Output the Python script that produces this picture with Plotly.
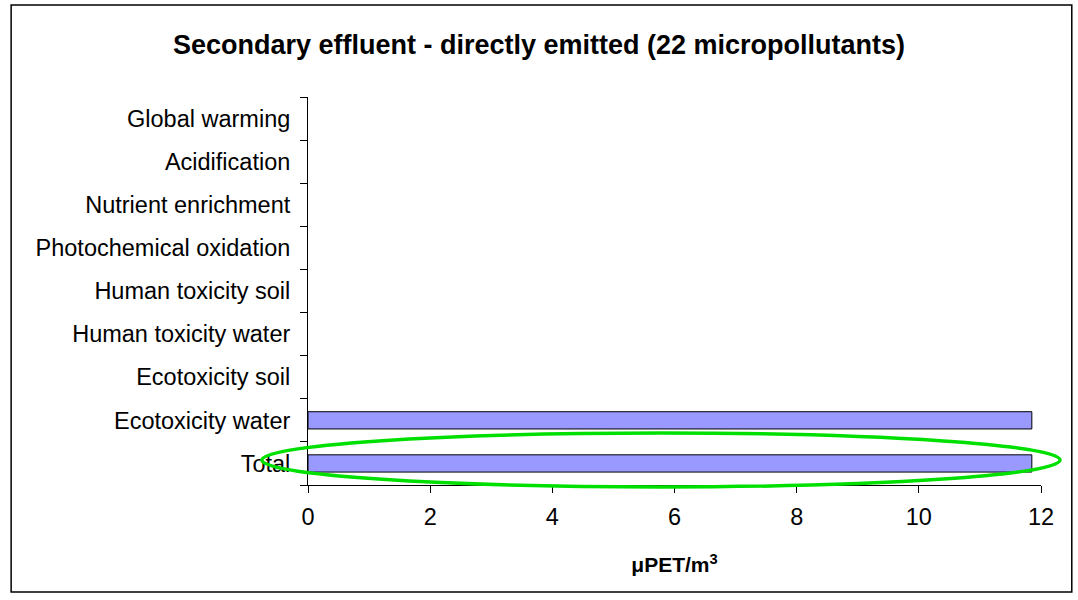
import plotly.graph_objs as go

categories = ['Total', 'Ecotoxicity water', 'Ecotoxicity soil', 'Human toxicity water',
              'Human toxicity soil', 'Photochemical oxidation', 'Nutrient enrichment',
              'Acidification', 'Global warming']
values = [11.85, 11.85, 0, 0, 0, 0, 0, 0, 0]
x_ticks = [0, 2, 4, 6, 8, 10, 12]

# no outline on the empty bars, so they don't thicken the axis line
outline = [1 if v > 0 else 0 for v in values]

fig = go.Figure(go.Bar(
    x=values,
    y=categories,
    orientation='h',
    width=0.4,
    marker=dict(color='#9999FF', line=dict(color='black', width=outline)),
    hoverinfo='x+y',
))

fig.update_layout(
    width=1078,
    height=600,
    margin=dict(l=308, r=37, t=97, b=115),
    plot_bgcolor='white',
    paper_bgcolor='white',
    font=dict(family='Liberation Sans, Arial, sans-serif', size=23.5, color='black'),
    showlegend=False,
    title=dict(
        text='<b>Secondary effluent - directly emitted (22 micropollutants)</b>',
        x=0.5, xanchor='center', y=0.925, yanchor='middle',
        font=dict(size=27, color='black'),
    ),
    xaxis=dict(
        range=[0, 12],
        tickvals=x_ticks,
        ticks='outside',
        ticklen=7,
        tickcolor='black',
        showline=True,
        linecolor='black',
        linewidth=1,
        showgrid=False,
        zeroline=False,
        ticklabelstandoff=4,
        title=dict(text='<b>μPET/m<sup>3</sup></b>', font=dict(size=21), standoff=28),
    ),
    yaxis=dict(
        range=[-0.5, 8.5],
        categoryorder='array',
        categoryarray=categories,
        tickson='boundaries',
        ticks='outside',
        ticklen=7,
        tickcolor='black',
        showline=True,
        linecolor='black',
        linewidth=1,
        showgrid=False,
        zeroline=False,
        ticklabelstandoff=12,
    ),
    shapes=[
        # outer frame round the whole chart
        dict(type='rect', xref='paper', yref='paper',
             x0=-0.405, x1=1.042, y0=-0.276, y1=1.237,
             line=dict(color='black', width=1.5)),
        # green highlight round the Total bar
        dict(type='circle', xref='paper', yref='paper',
             x0=-0.063, x1=1.026, y0=-0.005, y1=0.134,
             line=dict(color='#00E000', width=3.5)),
    ],
)

fig.write_html("out.html", config={'displayModeBar': False},
               post_script="document.body.style.margin='0';")
